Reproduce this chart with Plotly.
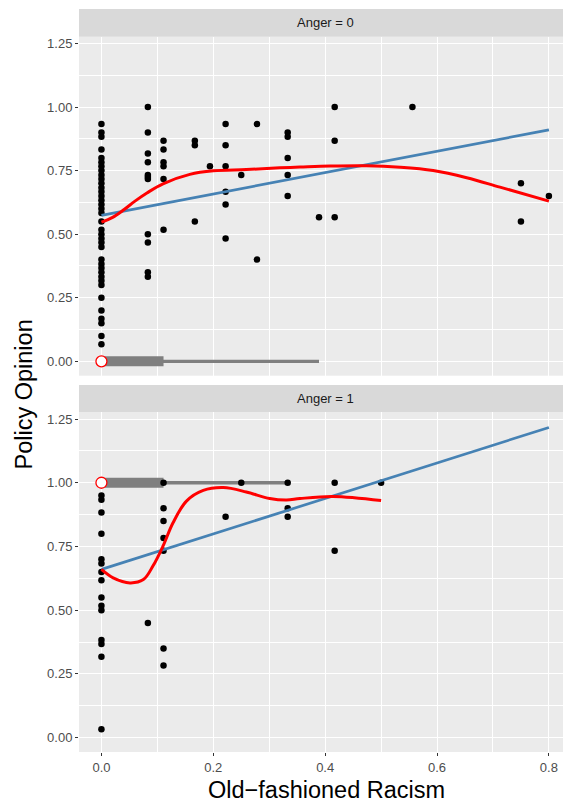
import plotly.graph_objects as go

# ---------------- data ----------------
# Anger = 0 : scatter points (x = old-fashioned racism, y = policy opinion)
a0_x = ([0.0] * 37 + [0.083] * 11 + [0.111] * 6 + [0.167] * 3 + [0.194] + [0.222] * 6
        + [0.25] + [0.278] * 2 + [0.333] * 5 + [0.389] + [0.417] * 3 + [0.556] + [0.75] * 2 + [0.8])
a0_y = ([0.933, 0.9, 0.883, 0.833, 0.8, 0.783, 0.767, 0.75, 0.733, 0.717, 0.7, 0.683, 0.667,
         0.65, 0.633, 0.617, 0.6, 0.583, 0.55, 0.517, 0.5, 0.483, 0.467, 0.45, 0.4, 0.383,
         0.367, 0.35, 0.333, 0.317, 0.3, 0.25, 0.2, 0.167, 0.15, 0.1, 0.067]
        + [1.0, 0.9, 0.817, 0.783, 0.733, 0.725, 0.717, 0.5, 0.467, 0.35, 0.333]
        + [0.867, 0.833, 0.783, 0.767, 0.717, 0.517]
        + [0.867, 0.85, 0.55]
        + [0.767]
        + [0.933, 0.85, 0.767, 0.667, 0.617, 0.483]
        + [0.733]
        + [0.933, 0.4]
        + [0.9, 0.883, 0.8, 0.733, 0.65]
        + [0.567]
        + [1.0, 0.867, 0.567]
        + [1.0]
        + [0.7, 0.55]
        + [0.65])

# Anger = 1 : scatter points
a1_x = ([0.0] * 16 + [0.083] + [0.111] * 7 + [0.222] + [0.25] + [0.333] * 3 + [0.417] * 2 + [0.5])
a1_y = ([1.0, 0.95, 0.933, 0.883, 0.8, 0.7, 0.683, 0.65, 0.617, 0.55, 0.517, 0.5, 0.383,
         0.367, 0.317, 0.033]
        + [0.45]
        + [1.0, 0.9, 0.85, 0.783, 0.733, 0.35, 0.283]
        + [0.867]
        + [1.0]
        + [1.0, 0.9, 0.867]
        + [1.0, 0.733]
        + [1.0])

# linear fits (steelblue)
lm0_x = [0.0, 0.8]
lm0_y = [0.574, 0.910]
lm1_x = [0.0, 0.8]
lm1_y = [0.660, 1.217]

# loess fits (red)
lo0_x = [0.0, 0.02, 0.04, 0.06, 0.082, 0.11, 0.158, 0.2, 0.259, 0.319, 0.355, 0.409, 0.474,
         0.534, 0.593, 0.653, 0.7125, 0.8]
lo0_y = [0.547, 0.566, 0.596, 0.63, 0.663, 0.698, 0.735, 0.749, 0.754, 0.761, 0.764, 0.768,
         0.769, 0.763, 0.75, 0.722, 0.685, 0.63]
lo1_x = [0.0, 0.021, 0.051, 0.075, 0.092, 0.11, 0.128, 0.152, 0.182, 0.218, 0.259, 0.301,
         0.331, 0.355, 0.414, 0.5]
lo1_y = [0.66, 0.627, 0.607, 0.62, 0.673, 0.751, 0.843, 0.928, 0.97, 0.981, 0.964, 0.938,
         0.932, 0.938, 0.946, 0.93]

# horizontal boxplots of racism, placed at y = anger level
box_level = [0.0, 1.0]
box_q1 = [0.0, 0.0]
box_q3 = [0.111, 0.111]
box_lo = [0.0, 0.0]
box_hi = [0.389, 0.333]
box_mark_x = [0.0, 0.0]

strip_labels = ["Anger = 0", "Anger = 1"]
x_ticks = [0.0, 0.2, 0.4, 0.6, 0.8]
x_ticktext = ["0.0", "0.2", "0.4", "0.6", "0.8"]
y_ticks = [0.0, 0.25, 0.5, 0.75, 1.0, 1.25]
y_ticktext = ["0.00", "0.25", "0.50", "0.75", "1.00", "1.25"]

# ---------------- figure ----------------
FONT = "Liberation Sans"
GREY_BOX = "#7F7F7F"
fig = go.Figure()

panels = [
    (a0_x, a0_y, lm0_x, lm0_y, lo0_x, lo0_y, "x", "y"),
    (a1_x, a1_y, lm1_x, lm1_y, lo1_x, lo1_y, "x2", "y2"),
]
for i, (px, py, lx, ly, sx, sy, xa, ya) in enumerate(panels):
    lvl = box_level[i]
    fig.add_trace(go.Scatter(x=[box_lo[i], box_hi[i]], y=[lvl, lvl], mode="lines",
                             line=dict(color=GREY_BOX, width=3.4), xaxis=xa, yaxis=ya,
                             showlegend=False, hoverinfo="skip"))
    fig.add_trace(go.Scatter(x=[box_q1[i], box_q3[i]], y=[lvl, lvl], mode="lines",
                             line=dict(color=GREY_BOX, width=10), xaxis=xa, yaxis=ya,
                             showlegend=False, hoverinfo="skip"))
    fig.add_trace(go.Scatter(x=px, y=py, mode="markers",
                             marker=dict(color="black", size=6.5, line=dict(width=0)),
                             xaxis=xa, yaxis=ya, showlegend=False))
    fig.add_trace(go.Scatter(x=lx, y=ly, mode="lines",
                             line=dict(color="#4682B4", width=2.7), xaxis=xa, yaxis=ya,
                             showlegend=False))
    fig.add_trace(go.Scatter(x=sx, y=sy, mode="lines",
                             line=dict(color="#FF0000", width=3, shape="spline", smoothing=1),
                             xaxis=xa, yaxis=ya, showlegend=False))
    fig.add_trace(go.Scatter(x=[box_mark_x[i]], y=[lvl], mode="markers",
                             marker=dict(color="white", size=11,
                                         line=dict(color="#FF0000", width=1.3)),
                             xaxis=xa, yaxis=ya, showlegend=False))

H, W = 803, 563
mt, mb, ml = 9, 51, 79
ph = H - mt - mb


def py_frac(pix):
    return (H - mb - pix) / ph


top_dom = [py_frac(375.7), py_frac(36.7)]
bot_dom = [0, py_frac(412.3)]
strip_top = [py_frac(36.7), 1.0]
strip_bot = [py_frac(412.3), py_frac(385)]

xrange = [-0.0401, 0.8252]
yrange = [-0.0565, 1.2765]

common_x = dict(range=xrange, tickvals=x_ticks, ticktext=x_ticktext, showgrid=True,
                gridcolor="white", gridwidth=1.4, zeroline=False, showline=False,
                minor=dict(dtick=0.1, tick0=0, showgrid=True, gridcolor="white",
                           gridwidth=0.7, ticks=""),
                tickfont=dict(family=FONT, size=13, color="#4D4D4D"))
common_y = dict(range=yrange, tickvals=y_ticks, ticktext=y_ticktext, showgrid=True,
                gridcolor="white", gridwidth=1.4, zeroline=False, showline=False,
                ticks="outside", ticklen=3, tickwidth=1, tickcolor="#333333",
                minor=dict(dtick=0.125, tick0=0, showgrid=True, gridcolor="white",
                           gridwidth=0.7, ticks=""),
                tickfont=dict(family=FONT, size=13, color="#4D4D4D"))

fig.update_layout(
    width=W, height=H,
    margin=dict(l=ml, r=0, t=mt, b=mb, pad=0),
    paper_bgcolor="white", plot_bgcolor="#EBEBEB",
    font=dict(family=FONT),
    xaxis=dict(**common_x, anchor="y", matches="x2", showticklabels=False, ticks=""),
    xaxis2=dict(**common_x, anchor="y2", ticks="outside", ticklen=3, tickwidth=1,
                tickcolor="#333333"),
    yaxis=dict(**common_y, domain=top_dom, anchor="x"),
    yaxis2=dict(**common_y, domain=bot_dom, anchor="x2"),
)

shapes = []
annotations = []
for (y0, y1), lab in zip([strip_top, strip_bot], strip_labels):
    shapes.append(dict(type="rect", xref="paper", yref="paper", x0=0, x1=1, y0=y0, y1=y1,
                       fillcolor="#D9D9D9", line=dict(width=0), layer="below"))
    annotations.append(dict(text=lab, xref="paper", yref="paper", x=(325 - ml) / (W - ml),
                            y=(y0 + y1) / 2, xanchor="center", yanchor="middle",
                            showarrow=False,
                            font=dict(family=FONT, size=13, color="#1A1A1A")))

annotations.append(dict(text="Old\u2212fashioned Racism", xref="paper", yref="paper",
                        x=(326 - ml) / (W - ml), y=py_frac(790), xanchor="center",
                        yanchor="middle", showarrow=False,
                        font=dict(family=FONT, size=23.5, color="black")))
annotations.append(dict(text="Policy Opinion", xref="paper", yref="paper",
                        x=(23 - ml) / (W - ml), y=py_frac(394.5), xanchor="center",
                        yanchor="middle", textangle=-90, showarrow=False,
                        font=dict(family=FONT, size=23.5, color="black")))
fig.update_layout(shapes=shapes, annotations=annotations)

fig.write_html("out.html")
